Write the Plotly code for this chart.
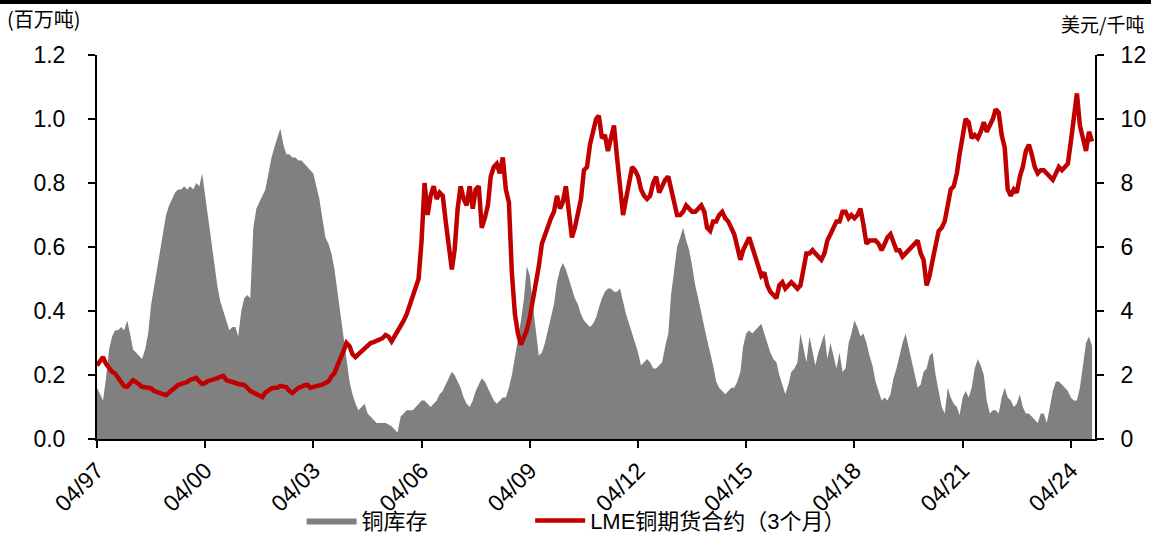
import pandas as pd
import plotly.graph_objects as go

# Monthly observations, Apr 1997 - Nov 2024
start_month = "1997-04-01"

# LME copper inventory (million tonnes)
inventory = [
    0.16, 0.14, 0.12, 0.19, 0.28, 0.32, 0.34, 0.34, 0.35,
    0.34, 0.37, 0.33, 0.28, 0.27, 0.26, 0.25, 0.28, 0.33, 0.42, 0.48, 0.54,
    0.59, 0.65, 0.70, 0.73, 0.75, 0.77, 0.78, 0.78, 0.79, 0.78, 0.79, 0.78,
    0.80, 0.79, 0.83, 0.76, 0.70, 0.62, 0.55, 0.48, 0.43, 0.40, 0.37, 0.34,
    0.35, 0.35, 0.32, 0.40, 0.44, 0.45, 0.44, 0.66, 0.72, 0.74, 0.76, 0.78,
    0.83, 0.88, 0.91, 0.94, 0.97, 0.92, 0.89, 0.89, 0.88, 0.88, 0.87, 0.87,
    0.86, 0.85, 0.84, 0.83, 0.79, 0.75, 0.69, 0.63, 0.61, 0.58, 0.53, 0.46,
    0.38, 0.32, 0.25, 0.18, 0.14, 0.11, 0.09, 0.10, 0.11, 0.08, 0.07, 0.06,
    0.05, 0.05, 0.05, 0.05, 0.045, 0.04, 0.03, 0.02, 0.07, 0.08, 0.09, 0.09,
    0.09, 0.10, 0.11, 0.12, 0.12, 0.11, 0.10, 0.11, 0.12, 0.14, 0.15, 0.17,
    0.19, 0.21, 0.20, 0.18, 0.16, 0.13, 0.11, 0.10, 0.12, 0.15, 0.17, 0.19,
    0.18, 0.16, 0.14, 0.12, 0.11, 0.12, 0.13, 0.13, 0.16, 0.20, 0.25, 0.31,
    0.37, 0.44, 0.54, 0.51, 0.42, 0.33, 0.26, 0.27, 0.30, 0.34, 0.38, 0.42,
    0.49, 0.53, 0.55, 0.53, 0.50, 0.47, 0.44, 0.42, 0.39, 0.37, 0.36, 0.35,
    0.36, 0.38, 0.41, 0.44, 0.46, 0.47, 0.47, 0.46, 0.46, 0.47, 0.43, 0.39,
    0.36, 0.33, 0.30, 0.27, 0.23, 0.24, 0.25, 0.24, 0.22, 0.22, 0.23, 0.24,
    0.29, 0.33, 0.45, 0.53, 0.60, 0.63, 0.66, 0.62, 0.59, 0.54, 0.48, 0.44,
    0.39, 0.35, 0.31, 0.27, 0.23, 0.18, 0.16, 0.15, 0.14, 0.15, 0.16, 0.16,
    0.18, 0.21, 0.29, 0.33, 0.34, 0.33, 0.34, 0.35, 0.36, 0.33, 0.30, 0.27,
    0.25, 0.24, 0.20, 0.17, 0.14, 0.17, 0.21, 0.22, 0.24, 0.33, 0.28, 0.24,
    0.32, 0.27, 0.23, 0.27, 0.30, 0.33, 0.25, 0.30, 0.26, 0.22, 0.27, 0.21,
    0.22, 0.30, 0.33, 0.37, 0.35, 0.32, 0.33, 0.30, 0.26, 0.23, 0.18, 0.15,
    0.12, 0.13, 0.12, 0.14, 0.19, 0.22, 0.26, 0.30, 0.33, 0.29, 0.25, 0.20,
    0.16, 0.17, 0.21, 0.22, 0.26, 0.27, 0.20, 0.15, 0.10, 0.08, 0.16, 0.13,
    0.11, 0.10, 0.075, 0.13, 0.15, 0.13, 0.16, 0.22, 0.25, 0.23, 0.20, 0.12,
    0.08, 0.09, 0.09, 0.08, 0.13, 0.16, 0.13, 0.12, 0.10, 0.11, 0.14, 0.10,
    0.08, 0.08, 0.07, 0.06, 0.05, 0.08, 0.08, 0.05, 0.10, 0.15, 0.18, 0.18,
    0.17, 0.16, 0.15, 0.13, 0.12, 0.12, 0.16, 0.23, 0.30, 0.32, 0.29,
]

# LME 3-month copper futures (USD thousand per tonne)
price = [
    2.30, 2.45, 2.56, 2.35, 2.20, 2.10, 2.05, 1.90, 1.75,
    1.65, 1.63, 1.72, 1.84, 1.78, 1.68, 1.63, 1.62, 1.60, 1.58, 1.50, 1.47,
    1.45, 1.40, 1.37, 1.45, 1.53, 1.60, 1.69, 1.72, 1.75, 1.78, 1.85, 1.88,
    1.91, 1.80, 1.72, 1.75, 1.82, 1.84, 1.86, 1.90, 1.94, 1.97, 1.84, 1.80,
    1.78, 1.75, 1.72, 1.70, 1.69, 1.60, 1.50, 1.45, 1.40, 1.35, 1.31, 1.45,
    1.53, 1.58, 1.60, 1.60, 1.66, 1.64, 1.62, 1.50, 1.44, 1.52, 1.60, 1.63,
    1.68, 1.69, 1.60, 1.63, 1.65, 1.69, 1.70, 1.75, 1.80, 1.95, 2.06, 2.30,
    2.50, 2.75, 3.00, 2.90, 2.65, 2.56, 2.65, 2.75, 2.82, 2.90, 3.00, 3.03,
    3.08, 3.10, 3.15, 3.25, 3.20, 3.05, 3.20, 3.40, 3.55, 3.70, 3.90, 4.20,
    4.40, 4.75, 5.00, 6.20, 8.00, 7.00, 7.60, 7.90, 7.50, 7.70, 7.60, 6.80,
    6.00, 5.30, 5.90, 7.20, 7.90, 7.50, 7.30, 7.90, 7.20, 7.80, 7.90, 6.60,
    6.90, 7.30, 8.20, 8.50, 8.60, 8.30, 8.80, 7.80, 7.40, 5.20, 3.90, 3.30,
    2.95, 3.20, 3.40, 3.80, 4.30, 4.80, 5.40, 6.10, 6.40, 6.60, 6.90, 7.10,
    7.60, 7.20, 7.40, 7.90, 7.10, 6.30, 6.60, 7.10, 7.50, 8.40, 8.50, 9.20,
    9.60, 10.0, 10.1, 9.40, 9.50, 9.00, 9.40, 9.80, 8.80, 7.90, 7.00, 7.50,
    8.00, 8.50, 8.40, 8.20, 7.80, 7.60, 7.50, 7.60, 8.00, 8.20, 7.70, 7.90,
    8.10, 8.20, 7.80, 7.40, 7.00, 7.00, 7.10, 7.30, 7.20, 7.10, 7.10, 7.20,
    7.30, 7.10, 6.60, 6.50, 6.80, 6.80, 7.00, 7.10, 6.90, 6.80, 6.60, 6.40,
    6.00, 5.60, 5.90, 6.10, 6.30, 6.00, 5.70, 5.30, 5.10, 5.20, 4.80, 4.60,
    4.50, 4.40, 4.80, 4.90, 4.70, 4.80, 4.90, 4.80, 4.70, 4.80, 5.30, 5.80,
    5.80, 5.90, 5.80, 5.70, 5.60, 5.80, 6.20, 6.40, 6.60, 6.80, 6.80, 7.10,
    7.10, 6.90, 7.00, 6.90, 7.00, 7.20, 6.70, 6.10, 6.20, 6.20, 6.20, 6.10,
    5.90, 6.10, 6.30, 6.40, 6.10, 5.90, 5.90, 5.70, 5.80, 5.90, 6.00, 6.10,
    6.20, 5.80, 5.60, 4.80, 5.10, 5.60, 6.00, 6.50, 6.60, 6.80, 7.30, 7.80,
    7.90, 8.30, 8.90, 9.50, 10.0, 9.90, 9.40, 9.50, 9.40, 9.60, 9.90, 9.60,
    9.80, 10.0, 10.3, 10.2, 9.50, 9.10, 7.80, 7.60, 7.80, 7.70, 8.20, 8.50,
    9.00, 9.20, 8.90, 8.50, 8.30, 8.40, 8.40, 8.30, 8.20, 8.10, 8.30, 8.50,
    8.40, 8.50, 8.60, 9.30, 10.0, 10.8, 9.80, 9.40, 9.00, 9.60, 9.30,
]

tick_years = list(range(1997, 2025, 3))
inventory_name = "铜库存"
price_name = "LME铜期货合约（3个月）"

dates = pd.date_range(start_month, periods=len(inventory), freq="MS")
tick_vals = [pd.Timestamp(f"{y}-04-01") for y in tick_years]
tick_text = [f"04/{str(y)[-2:]}" for y in tick_years]

font_main = "Arial, 'Liberation Sans', 'Noto Sans CJK SC', sans-serif"
font_cjk = "'Noto Sans CJK SC', sans-serif"

fig = go.Figure()
fig.add_trace(go.Scatter(
    x=dates, y=inventory, name=inventory_name,
    mode="lines", fill="tozeroy",
    line=dict(width=0, color="#808080"), fillcolor="#808080",
    yaxis="y", legend="legend",
))
fig.add_trace(go.Scatter(
    x=dates, y=price, name=price_name,
    mode="lines", line=dict(width=4.5, color="#C00000"),
    yaxis="y2", legend="legend2",
))

axis_common = dict(
    showline=True, linecolor="black", linewidth=2,
    ticks="outside", ticklen=7, tickwidth=2, tickcolor="black",
    showgrid=False, zeroline=False, automargin=False,
    tickfont=dict(family=font_main, size=23, color="black"),
)

legend_common = dict(
    orientation="h", y=-0.213, xanchor="left", yanchor="middle",
    font=dict(family=font_main, size=22, color="black"),
    itemwidth=50, bgcolor="rgba(0,0,0,0)",
)

fig.update_layout(
    width=1151, height=539,
    margin=dict(l=97, r=56, t=55, b=100, autoexpand=False),
    paper_bgcolor="white", plot_bgcolor="white",
    showlegend=True,
    legend=dict(**legend_common, x=0.205),
    legend2=dict(**legend_common, x=0.434),
    xaxis=dict(
        **axis_common,
        range=[pd.Timestamp(start_month), pd.Timestamp("2024-12-01")],
        tickvals=tick_vals, ticktext=tick_text, tickangle=-45,
    ),
    yaxis=dict(
        **axis_common,
        range=[0, 1.2], tickvals=[0, 0.2, 0.4, 0.6, 0.8, 1.0, 1.2],
        tickformat=".1f", ticklabelstandoff=18,
    ),
    yaxis2=dict(
        **axis_common,
        range=[0, 12], tickvals=[0, 2, 4, 6, 8, 10, 12],
        overlaying="y", side="right", ticklabelstandoff=12,
    ),
)

# Unit labels for the two value axes
fig.add_annotation(
    text="(百万吨)", xref="paper", yref="paper",
    x=-0.092, y=1.094, xanchor="left", yanchor="middle", showarrow=False,
    font=dict(family=font_cjk, size=20, color="black"),
)
fig.add_annotation(
    text="美元/千吨", xref="paper", yref="paper",
    x=1.051, y=1.081, xanchor="right", yanchor="middle", showarrow=False,
    font=dict(family=font_cjk, size=19, color="black"),
)

# Heavy rule along the top edge of the page
fig.add_shape(
    type="rect", xref="paper", yref="paper",
    x0=-0.1, x1=1.06, y0=1 + 51 / 384, y1=1 + 56 / 384,
    fillcolor="black", line=dict(width=0), layer="above",
)

fig.write_html("out.html")
